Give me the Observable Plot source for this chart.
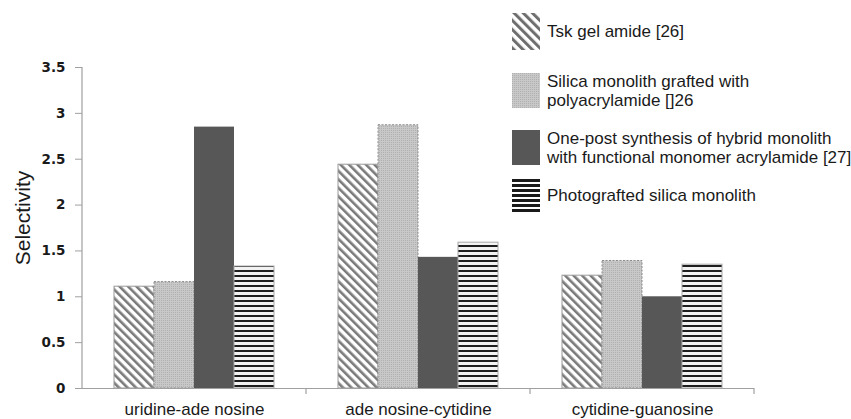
<!DOCTYPE html>
<html>
<head>
<meta charset="utf-8">
<script src="https://cdn.jsdelivr.net/npm/d3@7"></script>
<script src="https://cdn.jsdelivr.net/npm/@observablehq/plot@0.6"></script>
<style>
  html, body { margin: 0; padding: 0; background: #fff; overflow: hidden; }
  #wrap { position: relative; width: 851px; height: 419px; font-family: "Liberation Sans", Arial, sans-serif; }
  #wrap > svg.plot { position: absolute; left: 0; top: 0; overflow: visible; }
  #ylabel { position: absolute; left: 23px; top: 218px; transform: translate(-50%, -50%) rotate(-90deg);
            font-size: 21px; color: #1a1a1a; white-space: nowrap; font-family: "Liberation Sans", Arial, sans-serif; }
  #legend { position: absolute; left: 512px; top: 0; width: 339px; height: 230px; }
  .row { position: absolute; left: 0; display: flex; align-items: center; }
  .row svg { flex: none; }
  .row span { margin-left: 7px; font-size: 17px; line-height: 19px; color: #1a1a1a; white-space: pre; }
</style>
</head>
<body>
<div id="wrap">
  <svg width="0" height="0" style="position:absolute">
    <defs>
      <pattern id="pDiag" patternUnits="userSpaceOnUse" width="6" height="6" patternTransform="rotate(-45)">
        <rect width="6" height="6" fill="#fff"/>
        <rect width="2.6" height="6" fill="#7a7a7a"/>
      </pattern>
      <pattern id="pDiagL" patternUnits="userSpaceOnUse" width="6.5" height="6.5" patternTransform="rotate(-45)">
        <rect width="6.5" height="6.5" fill="#fff"/>
        <rect width="3" height="6.5" fill="#6e6e6e"/>
      </pattern>
      <pattern id="pDots" patternUnits="userSpaceOnUse" width="2" height="2">
        <rect width="2" height="2" fill="#c8c8c8"/>
        <rect width="1" height="1" fill="#b0b0b0"/>
      </pattern>
      <pattern id="pSolid" patternUnits="userSpaceOnUse" width="4" height="4">
        <rect width="4" height="4" fill="#575757"/>
      </pattern>
      <pattern id="pHoriz" patternUnits="userSpaceOnUse" width="5" height="5">
        <rect width="5" height="5" fill="#f2f2f2"/>
        <rect width="5" height="2" fill="#1e1e1e"/>
      </pattern>
      <pattern id="pHorizL" patternUnits="userSpaceOnUse" width="5" height="5">
        <rect width="5" height="5" fill="#fff"/>
        <rect width="5" height="3" fill="#1a1a1a"/>
      </pattern>
    </defs>
  </svg>
  <div id="ylabel">Selectivity</div>
  <div id="legend"></div>
</div>
<script>
// ---- data ----
const categories = ["uridine-ade nosine", "ade nosine-cytidine", "cytidine-guanosine"];
const seriesNames = [
  "Tsk gel amide [26]",
  "Silica monolith grafted with\npolyacrylamide []26",
  "One-post synthesis of hybrid monolith\nwith functional monomer acrylamide [27]",
  "Photografted silica monolith"
];
const tskGelAmide = [1.11, 2.44, 1.23];
const silicaGrafted = [1.16, 2.87, 1.39];
const onePostHybrid = [2.85, 1.43, 1.00];
const photografted = [1.33, 1.59, 1.35];
const yTicks = [0, 0.5, 1, 1.5, 2, 2.5, 3, 3.5];

const seriesValues = [tskGelAmide, silicaGrafted, onePostHybrid, photografted];
const data = seriesNames.flatMap((s, i) =>
  categories.map((c, j) => ({category: c, series: s, value: seriesValues[i][j]}))
);

// ---- styles ----
const styles = [
  {fill: "url(#pDiag)", stroke: "#9a9a9a", strokeWidth: 1},
  {fill: "url(#pDots)", stroke: "#8a8a8a", strokeWidth: 1, strokeDasharray: "2,1.5"},
  {fill: "url(#pSolid)", stroke: "none"},
  {fill: "url(#pHoriz)", stroke: "#a8a8a8", strokeWidth: 1}
];
const legendFills = ["url(#pDiagL)", "url(#pDots)", "url(#pSolid)", "url(#pHorizL)"];
const legendTops = [13, 73, 130, 179];
const legendHeights = [37, 35, 35, 33];

const plot = Plot.plot({
  width: 851,
  height: 419,
  marginLeft: 81,
  marginRight: 96,
  marginTop: 67,
  marginBottom: 31,
  style: {fontFamily: "'Liberation Sans', Arial, sans-serif", background: "transparent", overflow: "visible"},
  fx: {domain: categories, padding: 0, label: null},
  x: {domain: seriesNames, paddingInner: 0, paddingOuter: 0.74, axis: null},
  y: {domain: [0, 3.5], label: null},
  marks: [
    ...seriesNames.map((s, i) =>
      Plot.barY(data.filter(d => d.series === s), {
        fx: "category", x: "series", y: "value", ...styles[i]
      })
    ),
    Plot.ruleY([0], {stroke: "#a0a0a0", strokeWidth: 1.2}),
    Plot.axisY({
      ticks: yTicks, tickFormat: d => String(d), tickSize: 7, tickPadding: 10,
      fontSize: 13.5, fontWeight: "bold", fontFamily: "'DejaVu Sans', Verdana, sans-serif",
      stroke: "#a0a0a0", fill: "#1a1a1a", label: null
    }),
    Plot.axisFx({
      anchor: "bottom", tickSize: 0, tickPadding: 14, fontSize: 17,
      fill: "#1a1a1a", label: null
    })
  ]
});
plot.classList.add("plot");
document.getElementById("wrap").appendChild(plot);

// y-axis line and category boundary ticks derived from the plot's scales
const fx = plot.scale("fx");
const ys = plot.scale("y");
const svg = d3.select(plot);
const left = fx.apply(categories[0]);
const y0 = ys.apply(0);
const yTop = ys.apply(3.5);
const g = svg.append("g").attr("stroke", "#a0a0a0").attr("stroke-width", 1.2);
g.append("line").attr("x1", left).attr("x2", left).attr("y1", yTop).attr("y2", y0 + 1);
const bounds = categories.map(c => fx.apply(c)).concat([fx.apply(categories[categories.length - 1]) + fx.bandwidth]);
bounds.slice(1).forEach(b => {
  g.append("line").attr("x1", b).attr("x2", b).attr("y1", y0).attr("y2", y0 + 6);
});

// legend
const legend = d3.select("#legend");
seriesNames.forEach((s, i) => {
  const row = legend.append("div").attr("class", "row")
    .style("top", legendTops[i] + "px").style("height", legendHeights[i] + "px");
  const sw = row.append("svg").attr("width", 28).attr("height", legendHeights[i]);
  sw.append("rect").attr("x", 0).attr("y", 0).attr("width", 28).attr("height", legendHeights[i])
    .attr("fill", legendFills[i]);
  row.append("span").text(s);
});
</script>
</body>
</html>
